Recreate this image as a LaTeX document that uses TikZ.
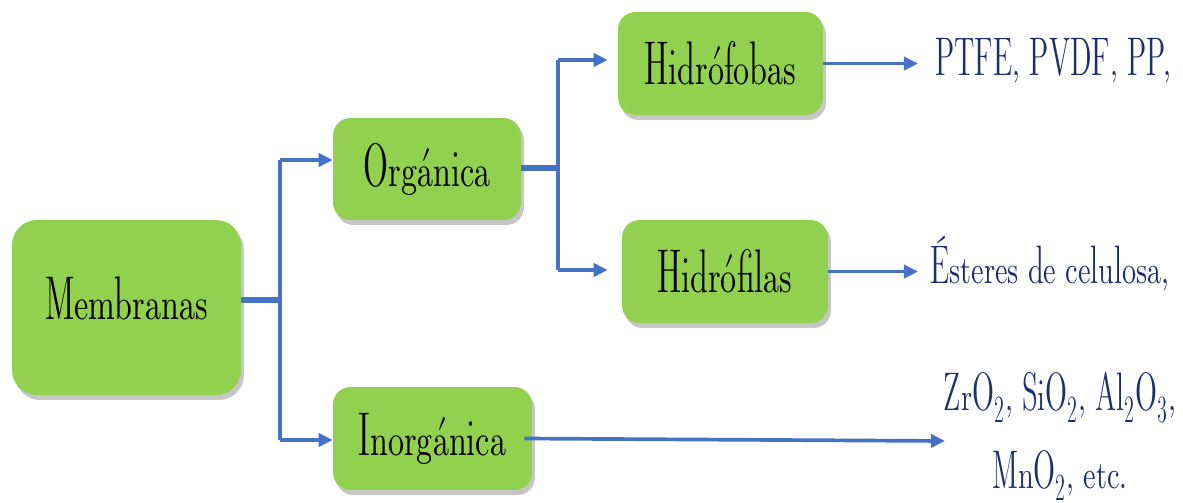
\documentclass[tikz,border=0pt]{standalone}
\usepackage{fontspec}
\setmainfont{lmromandunh10-regular.otf}[FakeStretch=0.73]
\usetikzlibrary{arrows.meta,shadows}
\definecolor{verdecaja}{HTML}{92D050}
\definecolor{azullinea}{HTML}{4472C4}
\definecolor{azultexto}{HTML}{1F2F6B}
\tikzset{
	caja/.style={fill=verdecaja, rounded corners=0.35cm, inner sep=0pt,
		drop shadow={shadow xshift=0.06cm, shadow yshift=-0.1cm, opacity=0.45},
		font=\fontsize{25}{30}\selectfont},
	linea/.style={draw=azullinea, line width=2.1pt},
	tronco/.style={draw=azullinea, line width=3.4pt},
	ejemplo/.style={text=azultexto, inner sep=0pt, font=\fontsize{22}{26}\selectfont}
}
\begin{document}
\begin{tikzpicture}[>={Triangle[length=8pt,width=7.5pt]}, x=0.02cm, y=-0.02cm, line cap=butt]
	\useasboundingbox (0,0) rectangle (1183,503);
	% cajas
	\node[caja, minimum width=4.58cm, minimum height=3.5cm, rounded corners=0.5cm] (mem) at (126.5,307.5) {\raisebox{0.38cm}{Membranas}};
	\node[caja, minimum width=3.76cm, minimum height=2.04cm] (org) at (427,169) {\raisebox{-0.28cm}{Orgánica}};
	\node[caja, minimum width=3.98cm, minimum height=2.06cm] (inorg) at (432.5,438.5) {\raisebox{-0.34cm}{Inorgánica}};
	\node[caja, minimum width=4.1cm, minimum height=2.06cm] (hfob) at (720.5,63.5) {\raisebox{-0.28cm}{Hidrófobas}};
	\node[caja, minimum width=4.12cm, minimum height=2.06cm] (hfil) at (725,271.5) {\raisebox{-0.28cm}{Hidrófilas}};
	% ejemplos
	\node[ejemplo, anchor=base west] (pt) at (935,76) {PTFE, PVDF, PP,};
	\node[ejemplo, anchor=base west] (es) at (930,283) {Ésteres de celulosa,};
	\node[ejemplo, anchor=base] (zr) at (1060,410) {ZrO\textsubscript{2}, SiO\textsubscript{2}, Al\textsubscript{2}O\textsubscript{3},};
	\node[ejemplo, anchor=base] (mn) at (1060,488) {MnO\textsubscript{2}, etc.};
	% uniones
	\coordinate (j1) at (280,160);
	\coordinate (j1m) at (280,300);
	\coordinate (j1b) at (280,440);
	\coordinate (j2) at (558,60);
	\coordinate (j2m) at (558,168);
	\coordinate (j2b) at (558,270);
	\coordinate (fin) at (945,441);
	% conectores
	\draw[tronco] (mem.east |- j1m) -- (j1m);
	\draw[linea] (j1) -- (j1b);
	\draw[linea,->] (j1) -- (j1 -| org.west);
	\draw[linea,->] (j1b) -- (j1b -| inorg.west);
	\draw[tronco] (org.east |- j2m) -- (j2m);
	\draw[linea] (j2) -- (j2b);
	\draw[linea,->,shorten >=0.2cm] (j2) -- (j2 -| hfob.west);
	\draw[linea,->,shorten >=0.28cm] (j2b) -- (j2b -| hfil.west);
	\draw[linea,->,shorten >=0.34cm] (hfob.east) -- (hfob.east -| pt.west);
	\draw[linea,->,shorten >=0.24cm] (hfil.east) -- (hfil.east -| es.west);
	\draw[linea,->] ([xshift=-0.16cm]inorg.east) -- (fin);
\end{tikzpicture}
\end{document}
